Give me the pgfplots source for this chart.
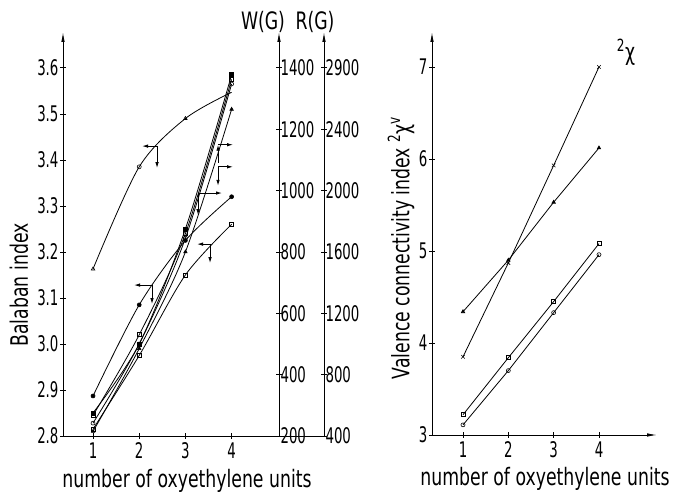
\documentclass[border=0pt]{standalone}
\usepackage{fontspec}
\setmainfont{DejaVu Sans}[FakeStretch=0.72]
\newfontfamily\tickfont{DejaVu Sans}[FakeStretch=0.62]
\usepackage{pgfplots}
\pgfplotsset{compat=1.18}
\usetikzlibrary{arrows.meta}

\pgfplotsset{
  sketch/.style={
    scale only axis, tick align=center, major tick length=6pt,
    every tick/.style={black, line width=0.8pt},
    axis line style={line width=0.9pt},
    tick label style={font=\tickfont\fontsize{21.5}{21.5}\selectfont},
    /pgf/number format/assume math mode=true,
    every axis plot/.append style={line width=0.8pt, black, mark size=2pt,
      mark options={solid, line width=0.6pt}},
  },
}
\tikzset{ann/.style={line width=0.9pt, -{Latex[length=6pt,width=3.5pt]}}}

\begin{document}
\begin{tikzpicture}
\path[use as bounding box] (0,0) rectangle (674pt,492pt);

% left panel, Balaban index
\begin{axis}[sketch, at={(63pt,56pt)}, anchor=south west,
  width=261pt, height=404pt,
  xmin=0.35, xmax=6, ymin=2.8, ymax=3.678,
  axis x line=bottom, axis y line=left,
  x axis line style={-}, y axis line style={-{Latex[length=10pt,width=3.5pt]}},
  xtick={1,2,3,4},
  ytick={2.8,2.9,3.0,3.1,3.2,3.3,3.4,3.5,3.6},
  yticklabels={2.8,2.9,3.0,3.1,3.2,3.3,3.4,3.5,3.6},
  yticklabel style={xshift=2pt}]
  % curve A
  \addplot[smooth, mark=none] coordinates {(1,3.163) (2,3.385) (3,3.49) (4,3.547)};
  \addplot[only marks, mark=triangle] coordinates {(1,3.163) (3,3.49)};
  \addplot[only marks, mark=o] coordinates {(2,3.385)};
  % curve B
  \addplot[smooth, mark=*] coordinates {(1,2.887) (2,3.085) (3,3.225) (4,3.32)};
  % curve C
  \addplot[smooth, mark=square] coordinates {(1,2.815) (2,2.975) (3,3.15) (4,3.26)};
  % steep bundle
  \addplot[smooth, mark=square*] coordinates {(1,2.85) (2,3.00) (3,3.25) (4,3.585)};
  \addplot[smooth, mark=square] coordinates {(1,2.845) (2,3.02) (3,3.24) (4,3.575)};
  \addplot[smooth, mark=o] coordinates {(1,2.828) (2,3.00) (3,3.23) (4,3.565)};
  \addplot[smooth, mark=triangle*] coordinates {(1,2.81) (2,2.99) (3,3.20) (4,3.51)};
  % axis indicators
  \draw[ann] (axis cs:2.386,3.430) -- ++(-15pt,0pt);
  \draw[ann] (axis cs:2.386,3.430) -- ++(0pt,-22pt);
  \draw[ann] (axis cs:2.277,3.128) -- ++(-18pt,0pt);
  \draw[ann] (axis cs:2.277,3.128) -- ++(0pt,-19pt);
  \draw[ann] (axis cs:3.533,3.217) -- ++(-13pt,0pt);
  \draw[ann] (axis cs:3.533,3.217) -- ++(0pt,-19pt);
  \draw[ann] (axis cs:3.273,3.328) -- ++(24pt,0pt);
  \draw[ann] (axis cs:3.273,3.328) -- ++(0pt,-22pt);
  \draw[ann] (axis cs:3.706,3.433) -- ++(15pt,0pt);
  \draw[ann, {Latex[length=6pt,width=3.5pt]}-] (axis cs:3.706,3.433) -- ++(0pt,-18pt);
  \draw[ann] (axis cs:3.706,3.385) -- ++(15pt,0pt);
  \draw[ann] (axis cs:3.706,3.385) -- ++(0pt,-19pt);
\end{axis}

% W(G) axis
\begin{axis}[sketch, at={(278pt,56pt)}, anchor=south west,
  width=1pt, height=404pt, xmin=0, xmax=1, ymin=200, ymax=1517,
  axis x line=none, axis y line=right,
  y axis line style={-{Latex[length=10pt,width=3.5pt]}},
  ytick={200,400,600,800,1000,1200,1400},
  yticklabels={200,400,600,800,1000,1200,1400},
  yticklabel style={xshift=-5pt}]
\end{axis}

% R(G) axis
\begin{axis}[sketch, at={(323pt,56pt)}, anchor=south west,
  width=1pt, height=404pt, xmin=0, xmax=1, ymin=400, ymax=3034,
  axis x line=none, axis y line=right,
  y axis line style={-{Latex[length=10pt,width=3.5pt]}},
  ytick={400,800,1200,1600,2000,2400,2800},
  yticklabels={400,800,1200,1600,2000,2400,2900},
  yticklabel style={xshift=-5pt}]
\end{axis}

% right panel, valence connectivity index
\begin{axis}[sketch, at={(432pt,57pt)}, anchor=south west,
  width=225pt, height=403pt,
  xmin=0.316, xmax=5.28, ymin=3, ymax=7.38,
  axis x line=bottom, axis y line=left,
  axis line style={-{Latex[length=10pt,width=3.5pt]}},
  xtick={1,2,3,4}, ytick={3,4,5,6,7},
  yticklabel style={xshift=2pt}]
  \addplot[mark=x, mark size=2.5pt] coordinates {(1,3.85) (2,4.87) (3,5.93) (4,7.0)};
  \addplot[mark=triangle*] coordinates {(1,4.34) (2,4.9) (3,5.53) (4,6.12)};
  \addplot[mark=square] coordinates {(1,3.22) (2,3.84) (3,4.45) (4,5.08)};
  \addplot[mark=o] coordinates {(1,3.11) (2,3.7) (3,4.33) (4,4.96)};
\end{axis}

\begin{scope}[font=\fontsize{24}{24}\selectfont]
\node at (187pt,11pt) {number of oxyethylene units};
\node at (545pt,13pt) {number of oxyethylene units};
\node[rotate=90] at (19pt,207pt) {Balaban index};
\node[rotate=90] at (401pt,244pt) {Valence connectivity index \textsuperscript{2}χ\textsuperscript{v}};
\node at (263pt,470pt) {W(G)};
\node at (315pt,470pt) {R(G)};
\node at (626pt,440pt) {\textsuperscript{2}χ};
\end{scope}
\end{tikzpicture}
\end{document}
